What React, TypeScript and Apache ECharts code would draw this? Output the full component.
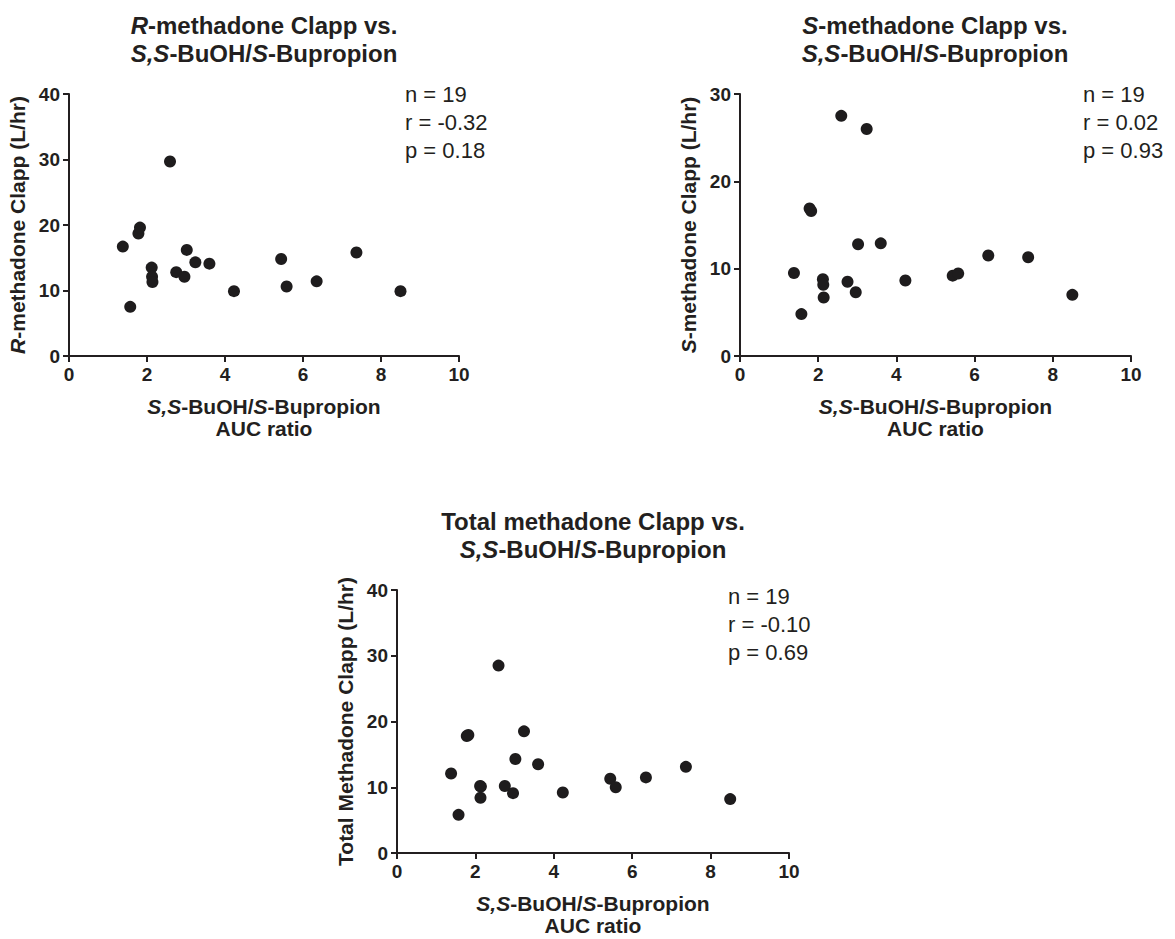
import React, { useEffect, useRef } from "react";
import * as echarts from "echarts";

// ---- data ----
const aucRatio = [1.38, 1.57, 1.78, 1.82, 2.12, 2.13, 2.14, 2.59, 2.75, 2.96, 3.02, 3.24, 3.6, 4.23, 5.44, 5.58, 6.35, 7.37, 8.5];
const rClapp = [16.7, 7.5, 18.7, 19.6, 13.5, 12.1, 11.3, 29.7, 12.8, 12.1, 16.2, 14.3, 14.1, 9.9, 14.8, 10.6, 11.4, 15.8, 9.9];
const sClapp = [9.5, 4.8, 16.9, 16.6, 8.8, 8.15, 6.7, 27.5, 8.5, 7.3, 12.8, 26.0, 12.9, 8.65, 9.2, 9.45, 11.5, 11.3, 7.0];
const totalClapp = [12.1, 5.8, 17.8, 17.95, 10.2, 8.4, 10.1, 28.5, 10.2, 9.1, 14.3, 18.5, 13.5, 9.2, 11.3, 10.0, 11.5, 13.1, 8.2];

const statsR = ["n = 19", "r = -0.32", "p = 0.18"];
const statsS = ["n = 19", "r = 0.02", "p = 0.93"];
const statsT = ["n = 19", "r = -0.10", "p = 0.69"];

const xTickInterval = 2;
const xMax = 10;
const yMaxR = 40;
const yMaxS = 30;
const yMaxT = 40;
const yTickInterval = 10;

const C = "#231f20";
const FF = "'Liberation Sans', Arial, Helvetica, sans-serif";

const richB = (size: number, lh: number) => ({
  fontFamily: FF,
  fontSize: size,
  fontWeight: "bold" as const,
  color: C,
  fill: C,
  lineHeight: lh,
});
const richI = (size: number, lh: number) => ({
  ...richB(size, lh),
  fontStyle: "italic" as const,
});

const xName = "{i|S,S}{b|-BuOH/}{i|S}{b|-Bupropion}\n{b|AUC ratio}";

function xAxis(gridIndex: number) {
  return {
    type: "value",
    gridIndex,
    min: 0,
    max: xMax,
    interval: xTickInterval,
    splitLine: { show: false },
    axisLine: { show: true, onZero: false, lineStyle: { color: C, width: 2 } },
    axisTick: { show: true, length: 6, lineStyle: { color: C, width: 2 } },
    axisLabel: { color: C, fontSize: 19, fontWeight: "bold", fontFamily: FF, margin: 9 },
    name: xName,
    nameLocation: "middle",
    nameGap: 39,
    nameMoveOverlap: false,
    nameTextStyle: {
      fontFamily: FF,
      fontSize: 21,
      fontWeight: "bold",
      color: C,
      lineHeight: 22,
      rich: { b: richB(21, 22), i: richI(21, 22) },
    },
  };
}

function yAxis(gridIndex: number, max: number, name: string) {
  return {
    type: "value",
    gridIndex,
    min: 0,
    max,
    interval: yTickInterval,
    splitLine: { show: false },
    axisLine: { show: true, onZero: false, lineStyle: { color: C, width: 2 } },
    axisTick: { show: true, length: 6, lineStyle: { color: C, width: 2 } },
    axisLabel: { color: C, fontSize: 19, fontWeight: "bold", fontFamily: FF, margin: 9 },
    name,
    nameLocation: "middle",
    nameGap: 41,
    nameMoveOverlap: false,
    nameTextStyle: {
      fontFamily: FF,
      fontSize: 21,
      fontWeight: "bold",
      color: C,
      rich: { b: richB(21, 22), i: richI(21, 22) },
    },
  };
}

function titleText(cx: number, top: number, text: string) {
  return {
    type: "text",
    x: cx,
    y: top,
    style: {
      text,
      align: "center",
      verticalAlign: "top",
      fontFamily: FF,
      fontSize: 24,
      fontWeight: "bold",
      lineHeight: 28,
      fill: C,
      rich: { b: richB(24, 28), i: richI(24, 28) },
    },
  };
}

function statsText(left: number, top: number, lines: string[]) {
  return {
    type: "text",
    x: left,
    y: top,
    style: {
      text: lines.join("\n"),
      align: "left",
      verticalAlign: "top",
      fontFamily: FF,
      fontSize: 22,
      lineHeight: 28,
      fill: C,
    },
  };
}

function pairs(xs: number[], ys: number[]) {
  return xs.map((x, i) => [x, ys[i]]);
}

function scatter(idx: number, ys: number[]) {
  return {
    type: "scatter",
    xAxisIndex: idx,
    yAxisIndex: idx,
    data: pairs(aucRatio, ys),
    symbol: "circle",
    symbolSize: 12,
    itemStyle: { color: "#1e1c1d", opacity: 1 },
  };
}

export default function App() {
  const ref = useRef<HTMLDivElement>(null);
  useEffect(() => {
    if (!ref.current) return;
    const chart = echarts.init(ref.current, undefined, { renderer: "svg" });
    chart.setOption({
      animation: false,
      backgroundColor: "#ffffff",
      grid: [
        { left: 69, top: 94, width: 390, height: 262, outerBoundsMode: "none", containLabel: false },
        { left: 740, top: 94, width: 391, height: 262, outerBoundsMode: "none", containLabel: false },
        { left: 397, top: 590, width: 392, height: 263, outerBoundsMode: "none", containLabel: false },
      ],
      xAxis: [xAxis(0), xAxis(1), xAxis(2)],
      yAxis: [
        yAxis(0, yMaxR, "{i|R}{b|-methadone Clapp (L/hr)}"),
        yAxis(1, yMaxS, "{i|S}{b|-methadone Clapp (L/hr)}"),
        yAxis(2, yMaxT, "{b|Total Methadone Clapp (L/hr)}"),
      ],
      series: [scatter(0, rClapp), scatter(1, sClapp), scatter(2, totalClapp)],
      graphic: [
        titleText(264, 11, "{i|R}{b|-methadone Clapp vs.}\n{i|S,S}{b|-BuOH/}{i|S}{b|-Bupropion}"),
        titleText(935, 11, "{i|S}{b|-methadone Clapp vs.}\n{i|S,S}{b|-BuOH/}{i|S}{b|-Bupropion}"),
        titleText(593, 507, "{b|Total methadone Clapp vs.}\n{i|S,S}{b|-BuOH/}{i|S}{b|-Bupropion}"),
        statsText(405, 80, statsR),
        statsText(1083, 80, statsS),
        statsText(728, 582, statsT),
      ],
    });
    return () => chart.dispose();
  }, []);
  return (
    <div
      ref={ref}
      style={{ position: "fixed", left: 0, top: 0, width: 1175, height: 939, background: "#fff" }}
    />
  );
}
